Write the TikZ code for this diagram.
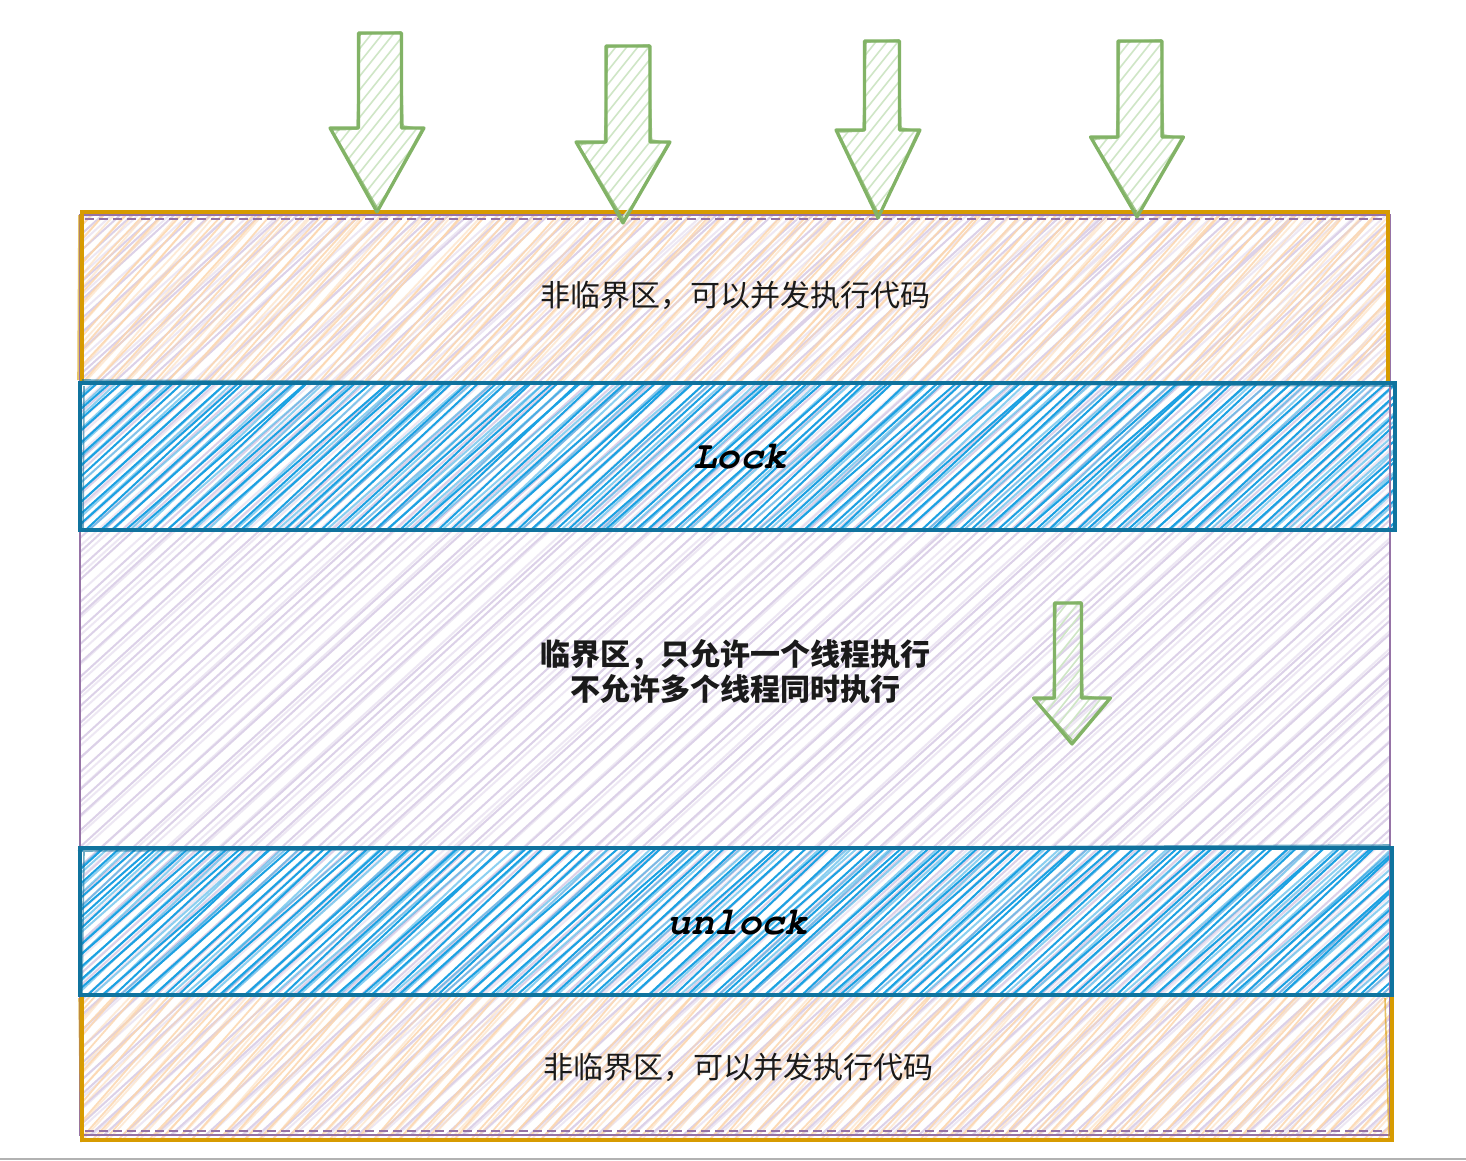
\documentclass[tikz,border=0pt]{standalone}
\usepackage{fontspec}
\newfontfamily\cjk{Noto Sans CJK SC}
\newfontfamily\monof{TeX Gyre Cursor}
\definecolor{orst}{HTML}{D79B00}
\definecolor{orhat}{HTML}{FCD6AE}
\definecolor{pust}{HTML}{9673A6}
\definecolor{puhat}{HTML}{DCD1E8}
\definecolor{blst}{HTML}{10739E}
\definecolor{blhat}{HTML}{1BA1E2}
\definecolor{grst}{HTML}{82B366}
\definecolor{grhat}{HTML}{CFE6C6}
\definecolor{txt}{HTML}{1A1A1A}
\pgfmathsetseed{42}
% x1 y1 x2 y2 style spacing slope(dx per dy)
\newcommand\hatchbox[7]{%
  \begin{scope}
  \clip (#1,#2) rectangle (#3,#4);
  \pgfmathsetmacro\hh{#4-#2}
  \pgfmathsetmacro\xs{#1-#7*\hh}
  \pgfmathsetmacro\xt{\xs+#6}
  \foreach \xx in {\xs,\xt,...,#3} {
    \pgfmathsetmacro\ja{rand*2.5}
    \pgfmathsetmacro\jb{rand*8}
    \pgfmathsetmacro\jc{rand*3}
    \draw[#5] ({\xx+\ja},#4) -- ++({#7*\hh+\jb},-\hh);
    \draw[#5, opacity=0.5] ({\xx+\ja+3+\jc},#4) -- ++({#7*\hh-\jb},-\hh);
  }
  \end{scope}}
% shaft centre, shaft half, top, head y, tip x, head half, tip y
\newcommand\garrow[7]{%
  \begin{scope}
  \clip ({#1-#2},#3) -- ({#1+#2},#3) -- ({#1+#2},#4) -- ({#5+#6},#4) -- (#5,#7) -- ({#5-#6},#4) -- ({#1-#2},#4) -- cycle;
  \foreach \k in {0,11,...,260} \draw[hatchgreen] ({#5-#6-200+\k},#7) -- ++(160,-200);
  \end{scope}
  \draw[arrowline] ({#1-#2},#3) -- ({#1+#2},#3) -- ({#1+#2},#4) -- ({#5+#6},#4) -- (#5,#7) -- ({#5-#6},#4) -- ({#1-#2},#4) -- cycle;
  \draw[arrowline, line width=1.6pt, opacity=0.75] ({#1-#2+1.5},{#3+1}) -- ({#1+#2-1},{#3-1}) -- ({#1+#2+1.5},{#4-2}) -- ({#5+#6-2},{#4+1}) -- ({#5+1},{#7-3}) -- ({#5-#6+2},{#4+2}) -- ({#1-#2-1.5},{#4+1}) -- cycle;
}
\begin{document}
\begin{tikzpicture}[x=1pt,y=-1pt,
  region/.style={inner sep=0pt, outer sep=0pt},
  hatchpurple/.style={puhat, line width=2pt},
  hatchorange/.style={orhat, line width=1.8pt, opacity=0.85},
  hatchblue/.style={blhat, line width=2pt},
  hatchgreen/.style={grhat, line width=1.6pt},
  arrowline/.style={grst, line width=3.2pt, line join=round},
  orangebox/.style={region, draw=orst, line width=3.4pt},
  bluebox/.style={region, draw=blst, line width=3.4pt},
  purplebox/.style={region, draw=pust, line width=2pt},
  cjktext/.style={text=txt, font=\cjk\fontsize{30}{36}\selectfont},
  cjkbold/.style={text=txt, align=center, font=\cjk\bfseries\fontsize{30}{35}\selectfont},
  codetext/.style={text=black, font=\monof\bfseries\itshape\fontsize{39}{39}\selectfont}
]
\useasboundingbox (0,0) rectangle (1466,1160);
\fill[white] (0,0) rectangle (1466,1160);
% hatching
\hatchbox{80}{215}{1390}{1135}{hatchpurple}{17}{1.1}
\hatchbox{82}{212}{1388}{383}{hatchorange}{14}{0.9}
\hatchbox{82}{995}{1392}{1140}{hatchorange}{14}{0.9}
\hatchbox{80}{383}{1395}{530}{hatchblue}{13}{1.1}
\hatchbox{80}{848}{1392}{995}{hatchblue}{13}{1.1}
% region outlines
\node[purplebox, minimum width=1310pt, minimum height=920pt] (crit) at (735,675) {};
\draw[pust, line width=2pt, dashed, dash pattern=on 9pt off 5pt] (85,219) -- (1385,219);
\draw[pust, line width=2pt, dashed, dash pattern=on 9pt off 5pt] (85,1131) -- (1385,1131);
\node[orangebox, minimum width=1306pt, minimum height=171pt] (top) at (735,297.5) {};
\node[orangebox, minimum width=1310pt, minimum height=145pt] (bot) at (737,1067.5) {};
\node[bluebox, minimum width=1315pt, minimum height=147pt] (lock) at (737.5,456.5) {};
\node[bluebox, minimum width=1312pt, minimum height=147pt] (unlock) at (736,921.5) {};
\draw[blst, line width=1.6pt, opacity=0.6] (82,380) -- (1393,386);
\draw[blst, line width=1.6pt, opacity=0.6] (78,851) -- (1390,845);
\draw[blst, line width=1.6pt, opacity=0.6] (84,386) -- (83,528);
\draw[blst, line width=1.6pt, opacity=0.6] (84,852) -- (82,993);
\draw[orst, line width=1.6pt, opacity=0.6] (79,215) -- (78,380);
\draw[orst, line width=1.6pt, opacity=0.6] (79,998) -- (81,1142);
\draw[orst, line width=1.6pt, opacity=0.6] (1385,998) -- (1389,1138);
% texts
\node[cjktext] (ttop) at (735,295) {非临界区，可以并发执行代码};
\node[cjktext] (tbot) at (738,1067) {非临界区，可以并发执行代码};
\node[cjkbold] (tmid) at (735,672) {临界区，只允许一个线程执行\\不允许多个线程同时执行};
\node[codetext] (tlock) at (740,457) {Lock};
\node[codetext] (tunlock) at (738,923) {unlock};
% arrows
\garrow{380}{21.5}{33}{128}{377}{47}{212}
\garrow{628}{22}{46}{142}{623}{47}{223}
\garrow{882}{17.5}{41}{130}{878}{42}{218}
\garrow{1140}{22}{41}{137}{1137}{46.5}{217}
\garrow{1068}{13.5}{603}{698}{1072}{38.5}{744}
% bottom edge line
\draw[gray!60, line width=2pt] (0,1159) -- (1466,1159);
\end{tikzpicture}
\end{document}
